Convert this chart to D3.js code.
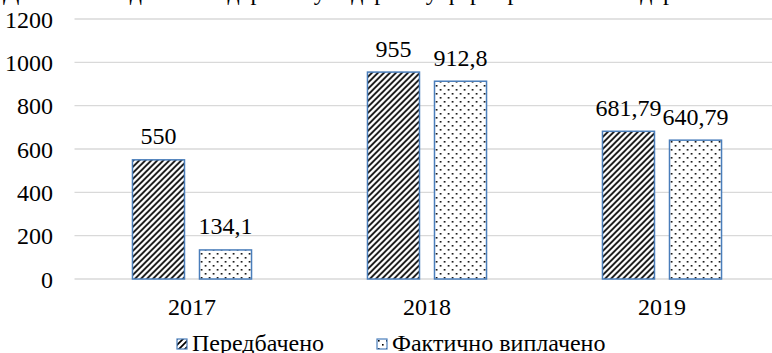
<!DOCTYPE html>
<html>
<head>
<meta charset="utf-8">
<script src="https://cdn.jsdelivr.net/npm/d3@7"></script>
</head>
<body style="margin:0">
<svg id="chart" width="772" height="353" font-family="Liberation Serif" font-size="24"></svg>
<script>
// Data: planned vs actually paid, by year
const years = ["2017", "2018", "2019"];
const seriesNames = ["Передбачено", "Фактично виплачено"];
const planned = [550, 955, 681.79];
const paid = [134.1, 912.8, 640.79];
const plannedLabels = ["550", "955", "681,79"];
const paidLabels = ["134,1", "912,8", "640,79"];
const yTicks = [0, 200, 400, 600, 800, 1000, 1200];
const chartTitle = "Динаміка видатків на державну підтримку фермерських господарств";

const svg = d3.select("#chart");
const W = 772, H = 353;
const fontSize = 24;

const margin = { left: 74.5, right: -7.5, top: 19, bottom: 74 };
const plotLeft = margin.left, plotRight = W - margin.right;
const plotTop = margin.top, plotBottom = H - margin.bottom;

const x0 = d3.scaleBand().domain(years).range([plotLeft, plotRight])
  .paddingInner(0.487).paddingOuter(0.2435);
const x1 = d3.scaleBand().domain(seriesNames).range([0, x0.bandwidth()])
  .paddingInner(0.2015);
const y = d3.scaleLinear().domain([0, 1200]).range([plotBottom, plotTop]);

// Fill patterns
const defs = svg.append("defs");
const hatch = defs.append("pattern").attr("id", "hatch")
  .attr("patternUnits", "userSpaceOnUse").attr("width", 6).attr("height", 6);
hatch.append("rect").attr("width", 6).attr("height", 6).attr("fill", "#fff");
hatch.append("path").attr("d", "M-1,7 L7,-1 M-4,4 L4,-4 M2,10 L10,2")
  .attr("stroke", "#000").attr("stroke-width", 1.7);

const dots = defs.append("pattern").attr("id", "dots")
  .attr("patternUnits", "userSpaceOnUse").attr("width", 8).attr("height", 8);
dots.append("rect").attr("width", 8).attr("height", 8).attr("fill", "#fff");
dots.append("rect").attr("x", 1).attr("y", 1).attr("width", 1.6).attr("height", 1.6).attr("fill", "#000");
dots.append("rect").attr("x", 5).attr("y", 5).attr("width", 1.6).attr("height", 1.6).attr("fill", "#000");

const fills = { "Передбачено": "url(#hatch)", "Фактично виплачено": "url(#dots)" };
const outline = "#4a7ebb";

function serifText(sel) {
  return sel.style("font-family", '"Liberation Serif"').attr("font-size", fontSize).attr("fill", "#000");
}

// Title (cut off at the top edge)
serifText(svg.append("text").attr("x", 3).attr("y", 0).text(chartTitle));

// Gridlines
svg.append("g").selectAll("line").data(yTicks).join("line")
  .attr("x1", plotLeft).attr("x2", W)
  .attr("y1", d => y(d)).attr("y2", d => y(d))
  .attr("stroke", "#d9d9d9").attr("stroke-width", 1.3);

// Y axis labels
const yAxis = d3.axisLeft(y).tickValues(yTicks).tickSize(0).tickPadding(0)
  .tickFormat(d3.format("d"));
const gy = svg.append("g").attr("transform", `translate(53,0)`).call(yAxis)
  .attr("font-family", null).attr("font-size", null);
gy.select(".domain").remove();
serifText(gy.selectAll("text")).attr("dy", "0.34em");

// Bars
const rows = years.map((yr, i) => ({
  year: yr,
  values: [
    { name: seriesNames[0], value: planned[i], label: plannedLabels[i] },
    { name: seriesNames[1], value: paid[i], label: paidLabels[i] }
  ]
}));

const groups = svg.append("g").selectAll("g").data(rows).join("g")
  .attr("transform", d => `translate(${x0(d.year)},0)`);

groups.selectAll("rect").data(d => d.values).join("rect")
  .attr("x", d => x1(d.name) + 0.75)
  .attr("y", d => y(d.value))
  .attr("width", x1.bandwidth() - 1.5)
  .attr("height", d => y(0) - y(d.value))
  .attr("fill", d => fills[d.name])
  .attr("stroke", outline).attr("stroke-width", 1.5);

serifText(groups.selectAll("text.val").data(d => d.values).join("text")
  .attr("class", "val")
  .attr("x", d => x1(d.name) + x1.bandwidth() / 2)
  .attr("y", d => y(d.value) - 15.5)
  .attr("text-anchor", "middle")
  .text(d => d.label));

// X axis labels
const xAxis = d3.axisBottom(x0).tickSize(0).tickPadding(0);
const gx = svg.append("g").attr("transform", `translate(0,${plotBottom + 36})`).call(xAxis)
  .attr("font-family", null).attr("font-size", null);
gx.select(".domain").remove();
serifText(gx.selectAll("text")).attr("dy", 0).attr("y", 0);

// Legend
const legendItems = [
  { name: seriesNames[0], x: 177 },
  { name: seriesNames[1], x: 377 }
];
const lg = svg.append("g").selectAll("g").data(legendItems).join("g")
  .attr("transform", d => `translate(${d.x},339)`);
lg.append("rect").attr("width", 10).attr("height", 10)
  .attr("fill", d => fills[d.name]).attr("stroke", outline).attr("stroke-width", 1.2);
serifText(lg.append("text").attr("x", 15).attr("y", 11.5).text(d => d.name));
</script>
</body>
</html>
